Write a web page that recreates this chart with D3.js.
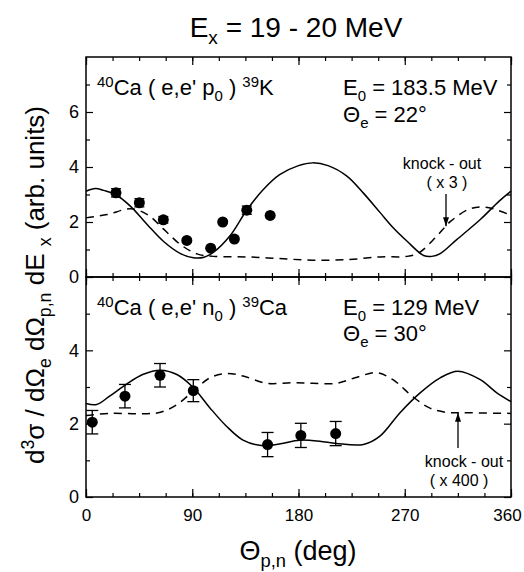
<!DOCTYPE html>
<html>
<head>
<meta charset="utf-8">
<script src="https://cdn.jsdelivr.net/npm/d3@7"></script>
<style>
  body { margin: 0; background: #fff; }
  svg { font-family: Arial, "Liberation Sans", Helvetica, sans-serif; }
</style>
</head>
<body>
<svg width="524" height="572"></svg>
<script>
// angle (deg), value
const topSolid = [[0,3.12],[8,3.22],[15,3.15],[25,3.0],[38,2.56],[52,1.9],[66,1.28],[80,0.85],[91,0.7],[100,0.72],[108,0.9],[122,1.5],[136,2.42],[150,3.17],[164,3.72],[180,4.05],[192,4.15],[205,4.05],[221,3.67],[235,3.05],[249,2.35],[260,1.8],[272,1.3],[286,0.78],[293,0.75],[300,0.85],[314,1.36],[334,2.09],[350,2.76],[360,3.12]];
const topDashed = [[0,2.15],[18,2.27],[38,2.48],[52,2.27],[66,1.73],[80,1.18],[94,0.84],[108,0.75],[136,0.73],[164,0.67],[192,0.61],[221,0.63],[249,0.73],[272,0.75],[282,0.88],[297,1.48],[309,2.03],[324,2.46],[334,2.55],[345,2.48],[360,2.24]];
// angle, value, error
const topPoints = [[25.4,3.06,0.15],[45.2,2.7,0.15],[65.5,2.08,0.12],[85.4,1.33,0],[105.6,1.05,0],[115.8,2.0,0],[125.7,1.38,0],[136.2,2.43,0.15],[156,2.24,0]];

const botSolid = [[0,2.55],[9,2.52],[20,2.75],[34,3.07],[48,3.34],[63,3.46],[77,3.34],[91,2.98],[105,2.43],[119,1.93],[133,1.55],[147,1.41],[161,1.43],[175,1.52],[181,1.55],[198,1.52],[212,1.46],[235,1.43],[249,1.66],[266,2.3],[283,2.84],[300,3.25],[315,3.43],[334,3.2],[348,2.84],[360,2.6]];
const botDashed = [[0,2.22],[20,2.28],[48,2.27],[63,2.31],[77,2.52],[91,2.89],[105,3.25],[119,3.37],[133,3.3],[153,3.1],[175,3.12],[192,3.1],[212,3.1],[228,3.25],[246,3.39],[260,3.2],[277,2.73],[291,2.43],[305,2.31],[319,2.3],[360,2.28]];
const botPoints = [[5.3,2.04,0.32],[33,2.75,0.32],[62.7,3.32,0.32],[90.9,2.9,0.3],[153.8,1.43,0.33],[182,1.68,0.33],[211.5,1.73,0.33]];

const xMajor = [0, 90, 180, 270, 360];
const xMinor = d3.range(0, 361, 22.5);

const svg = d3.select("svg");
const x = d3.scaleLinear().domain([0, 360]).range([86, 511]);
const yTop = d3.scaleLinear().domain([0, 8]).range([277, 57]);
const yBot = d3.scaleLinear().domain([0, 6]).range([497, 277]);
const fmt = d3.format("d");

// rich text helper: parts = [[text, "sup"|"sub"|undefined], ...]
function rich(g, px, py, parts, size, anchor) {
    const t = g.append("text").attr("x", px).attr("y", py)
        .attr("font-size", size).attr("text-anchor", anchor || "start");
    let cur = 0;
    parts.forEach(p => {
        const shift = p[1] === "sup" ? -0.38 * size : p[1] === "sub" ? 0.25 * size : 0;
        t.append("tspan").attr("dy", shift - cur)
            .attr("font-size", p[1] ? size * 0.68 : size).text(p[0]);
        cur = shift;
    });
    return t;
}

function panel(y, yMajor, yMinor, solid, dashed, points, capW) {
    const g = svg.append("g");
    const [y0, y1] = y.range();
    // ticks
    const axes = [
        [d3.axisLeft(y).tickValues(yMajor).tickSize(-7).tickPadding(7).tickFormat(fmt), `translate(86,0)`],
        [d3.axisLeft(y).tickValues(yMinor).tickSize(-4).tickFormat(""), `translate(86,0)`],
        [d3.axisRight(y).tickValues(yMajor).tickSize(-7).tickFormat(""), `translate(511,0)`],
        [d3.axisRight(y).tickValues(yMinor).tickSize(-4).tickFormat(""), `translate(511,0)`],
        [d3.axisBottom(x).tickValues(xMajor).tickSize(-8).tickFormat(""), `translate(0,${y0})`],
        [d3.axisBottom(x).tickValues(xMinor).tickSize(-4).tickFormat(""), `translate(0,${y0})`],
        [d3.axisTop(x).tickValues(xMajor).tickSize(-8).tickFormat(""), `translate(0,${y1})`],
        [d3.axisTop(x).tickValues(xMinor).tickSize(-4).tickFormat(""), `translate(0,${y1})`]
    ];
    axes.forEach(a => {
        const ag = g.append("g").attr("transform", a[1]).call(a[0]);
        ag.select(".domain").remove();
        ag.selectAll("line").attr("stroke", "#000").attr("stroke-width", 1.2);
        ag.selectAll("text").attr("font-size", 18).attr("fill", "#000")
            .attr("font-family", "Arial, 'Liberation Sans', sans-serif");
    });
    g.append("rect").attr("x", 86).attr("y", y1).attr("width", 425).attr("height", y0 - y1)
        .attr("fill", "none").attr("stroke", "#000").attr("stroke-width", 1.5);

    const line = d3.line().x(d => x(d[0])).y(d => y(d[1])).curve(d3.curveCatmullRom.alpha(0.5));
    g.append("path").attr("d", line(solid)).attr("fill", "none").attr("stroke", "#000").attr("stroke-width", 1.5);
    g.append("path").attr("d", line(dashed)).attr("fill", "none").attr("stroke", "#000")
        .attr("stroke-width", 1.5).attr("stroke-dasharray", "8,6");

    points.filter(d => d[2] > 0).forEach(d => {
        const cx = x(d[0]), ya = y(d[1] + d[2]), yb = y(d[1] - d[2]);
        g.append("line").attr("x1", cx).attr("x2", cx).attr("y1", ya).attr("y2", yb)
            .attr("stroke", "#000").attr("stroke-width", 1.3);
        [ya, yb].forEach(yy => g.append("line").attr("x1", cx - capW).attr("x2", cx + capW)
            .attr("y1", yy).attr("y2", yy).attr("stroke", "#000").attr("stroke-width", 1.3));
    });
    g.selectAll("circle.pt").data(points).enter().append("circle")
        .attr("cx", d => x(d[0])).attr("cy", d => y(d[1])).attr("r", 5.5).attr("fill", "#000");
    return g;
}

const gTop = panel(yTop, [0, 2, 4, 6], [1, 3, 5, 7], topSolid, topDashed, topPoints, 5);
const gBot = panel(yBot, [0, 2, 4], [1, 3, 5], botSolid, botDashed, botPoints, 6);

// bottom x tick labels
const xl = svg.append("g").attr("transform", "translate(0,497)")
    .call(d3.axisBottom(x).tickValues(xMajor).tickSize(0).tickPadding(12).tickFormat(fmt));
xl.select(".domain").remove();
xl.selectAll("text").attr("font-size", 17).attr("fill", "#000")
    .attr("font-family", "Arial, 'Liberation Sans', sans-serif");
xl.selectAll("text").filter(d => d === 360).attr("dx", -4);

// title
rich(svg, 296, 37, [["E"], ["x", "sub"], [" = 19 - 20 MeV"]], 28, "middle");

// panel labels
rich(gTop, 97, 95, [["40", "sup"], ["Ca ( e,e' p"], ["0", "sub"], [" ) "], ["39", "sup"], ["K"]], 22);
rich(gTop, 343, 95, [["E"], ["0", "sub"], [" = 183.5 MeV"]], 22);
rich(gTop, 343, 122, [["Θ"], ["e", "sub"], [" = 22°"]], 22);
rich(gBot, 97, 315, [["40", "sup"], ["Ca ( e,e' n"], ["0", "sub"], [" ) "], ["39", "sup"], ["Ca"]], 22);
rich(gBot, 343, 315, [["E"], ["0", "sub"], [" = 129 MeV"]], 22);
rich(gBot, 343, 341, [["Θ"], ["e", "sub"], [" = 30°"]], 22);

// knock-out annotations
function arrow(g, ax, yFrom, yTo) {
    g.append("line").attr("x1", ax).attr("x2", ax).attr("y1", yFrom).attr("y2", yTo)
        .attr("stroke", "#000").attr("stroke-width", 1.3);
    const dir = yTo > yFrom ? 1 : -1;
    g.append("path").attr("d", `M${ax},${yTo} L${ax - 3},${yTo - dir * 9} L${ax + 3},${yTo - dir * 9} Z`)
        .attr("fill", "#000");
}
gTop.append("text").attr("x", 442).attr("y", 169).attr("text-anchor", "middle").attr("font-size", 16).text("knock - out");
gTop.append("text").attr("x", 447).attr("y", 188).attr("text-anchor", "middle").attr("font-size", 16).text("( x 3 )");
arrow(gTop, 446, 194, yTop(1.85));
arrow(gBot, 458, 448, yBot(2.3));
gBot.append("text").attr("x", 464).attr("y", 467).attr("text-anchor", "middle").attr("font-size", 16).text("knock - out");
gBot.append("text").attr("x", 459).attr("y", 486).attr("text-anchor", "middle").attr("font-size", 16).text("( x 400 )");

// axis titles
rich(svg, 0, 0, [["Θ"], ["p,n", "sub"], ["  (deg)"]], 27, "middle")
    .attr("x", 298).attr("y", 560);
rich(svg, 0, 0, [["d"], ["3", "sup"], ["σ / dΩ"], ["e", "sub"], [" dΩ"], ["p,n", "sub"], [" dE "], ["x", "sub"], [" (arb. units)"]], 26, "middle")
    .attr("transform", "translate(44,285) rotate(-90)");
</script>
</body>
</html>
